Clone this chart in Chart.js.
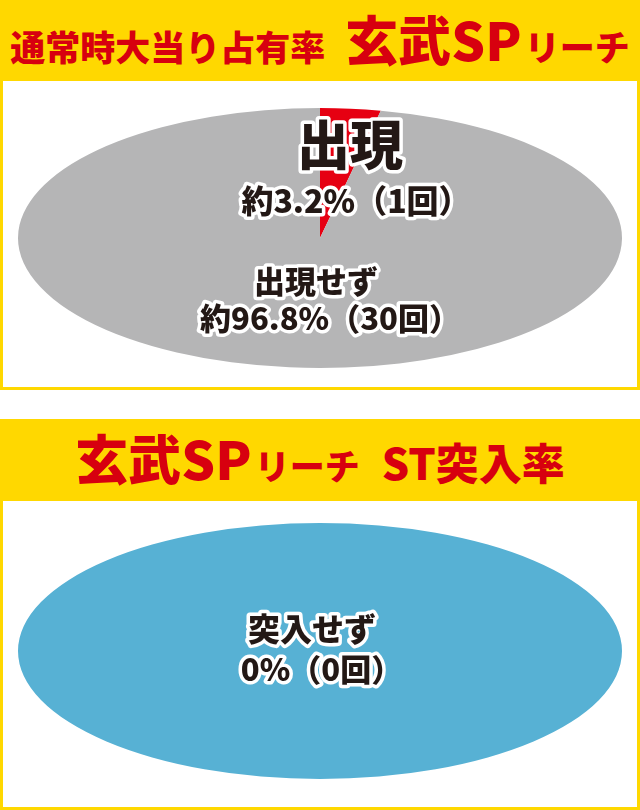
<!DOCTYPE html>
<html lang="ja">
<head>
<meta charset="utf-8">
<script src="https://cdn.jsdelivr.net/npm/chart.js@4.4.0/dist/chart.umd.min.js"></script>
<style>
  html, body { margin: 0; padding: 0; background: #fff; }
  body {
    width: 640px; height: 810px; position: relative; overflow: hidden;
    font-family: "Noto Sans CJK JP", "Noto Sans", sans-serif;
  }
  .panel { position: absolute; left: 0; width: 640px; background: #ffd800; }
  .inner { position: absolute; left: 3px; right: 3px; bottom: 3px; background: #fff; }
  .head {
    position: absolute; left: 0; width: 640px; top: 12px;
    display: flex; justify-content: center; align-items: baseline;
    line-height: 1; color: #d7000f; font-weight: 900; white-space: nowrap;
  }
  .s { font-size: 35px; }
  .l { font-size: 53px; }
  .m { font-size: 43px; }
  canvas { position: absolute; left: 0; }
</style>
</head>
<body>
  <div class="panel" style="top:0; height:390px;">
    <div class="head">
      <span class="s">通常時大当り占有率</span>
      <span class="l" style="margin-left:20px;">玄武SP</span>
      <span class="s" style="margin-left:3px;">リーチ</span>
    </div>
    <div class="inner" style="top:81px;"></div>
  </div>
  <div class="panel" style="top:419px; height:391px;">
    <div class="head">
      <span class="l">玄武SP</span>
      <span class="s" style="margin-left:3px;">リーチ</span>
      <span class="m" style="margin-left:22px;">ST突入率</span>
    </div>
    <div class="inner" style="top:82px;"></div>
  </div>

  <canvas id="occChart" width="640" height="306" style="top:81px; width:640px; height:306px;"></canvas>
  <canvas id="stChart" width="640" height="306" style="top:501px; width:640px; height:306px;"></canvas>

<script>
// 通常時大当り占有率（玄武SPリーチ）
const occLabels = ["出現", "出現せず"];
const occCounts = [1, 30];

// 玄武SPリーチ ST突入率
const stLabels = ["突入", "突入せず"];
const stShares = [0, 100];
const stCaptions = ["", "0%（0回）"];

const occTotal = occCounts.reduce((a, b) => a + b, 0);
const occCaptions = occCounts.map(
  (c) => `約${((c / occTotal) * 100).toFixed(1)}%（${c}回）`
);

// 円グラフを横に引き伸ばして楕円にする
const ellipsePlugin = {
  id: "ellipse",
  beforeDatasetsDraw(chart, args, opts) {
    const arc = chart.getDatasetMeta(0).data[0];
    const ctx = chart.ctx;
    ctx.save();
    ctx.translate(arc.x, arc.y);
    ctx.scale(opts.stretch, 1);
    ctx.translate(-arc.x, -arc.y);
  },
  afterDatasetsDraw(chart) {
    chart.ctx.restore();
  },
};

// 白フチ付きラベル
const labelPlugin = {
  id: "labels",
  afterDraw(chart, args, opts) {
    const ctx = chart.ctx;
    const arc = chart.getDatasetMeta(0).data[0];
    ctx.save();
    ctx.textBaseline = "middle";
    ctx.textAlign = "left";
    ctx.lineJoin = "round";
    for (const it of opts.items) {
      ctx.font = `900 ${it.size}px "Noto Sans CJK JP", sans-serif`;
      const m = ctx.measureText(it.text);
      const cx = arc.x + it.dx;
      const x = cx - (m.actualBoundingBoxRight - m.actualBoundingBoxLeft) / 2;
      const y = arc.y + it.dy;
      ctx.strokeStyle = "#fff";
      ctx.lineWidth = 7;
      ctx.strokeText(it.text, x, y);
      ctx.fillStyle = "#231815";
      ctx.fillText(it.text, x, y);
    }
    ctx.restore();
  },
};

function makePie(id, labels, values, colors, stretch, padding, items) {
  return new Chart(document.getElementById(id), {
    type: "pie",
    data: {
      labels: labels,
      datasets: [
        {
          data: values,
          backgroundColor: colors,
          borderWidth: 0,
          hoverOffset: 0,
        },
      ],
    },
    options: {
      responsive: false,
      animation: false,
      events: [],
      layout: { padding: padding },
      plugins: {
        legend: { display: false },
        tooltip: { enabled: false },
        ellipse: { stretch: stretch },
        labels: { items: items },
      },
    },
    plugins: [ellipsePlugin, labelPlugin],
  });
}

makePie(
  "occChart",
  occLabels,
  occCounts,
  ["#e60012", "#b5b5b6"],
  302 / 130,
  { left: 190, right: 190, top: 27, bottom: 19 },
  [
    { text: occLabels[0], size: 53, dx: 32, dy: -93 },
    { text: occCaptions[0], size: 32, dx: 26, dy: -37 },
    { text: occLabels[1], size: 31, dx: -3, dy: 43 },
    { text: occCaptions[1], size: 31, dx: 0, dy: 80 },
  ]
);

makePie(
  "stChart",
  stLabels,
  stShares,
  ["#e60012", "#57b1d4"],
  302 / 128,
  { left: 192, right: 192, top: 22, bottom: 28 },
  [
    { text: stLabels[1], size: 32, dx: -8, dy: -22 },
    { text: stCaptions[1], size: 31, dx: -8, dy: 18 },
  ]
);
</script>
</body>
</html>
